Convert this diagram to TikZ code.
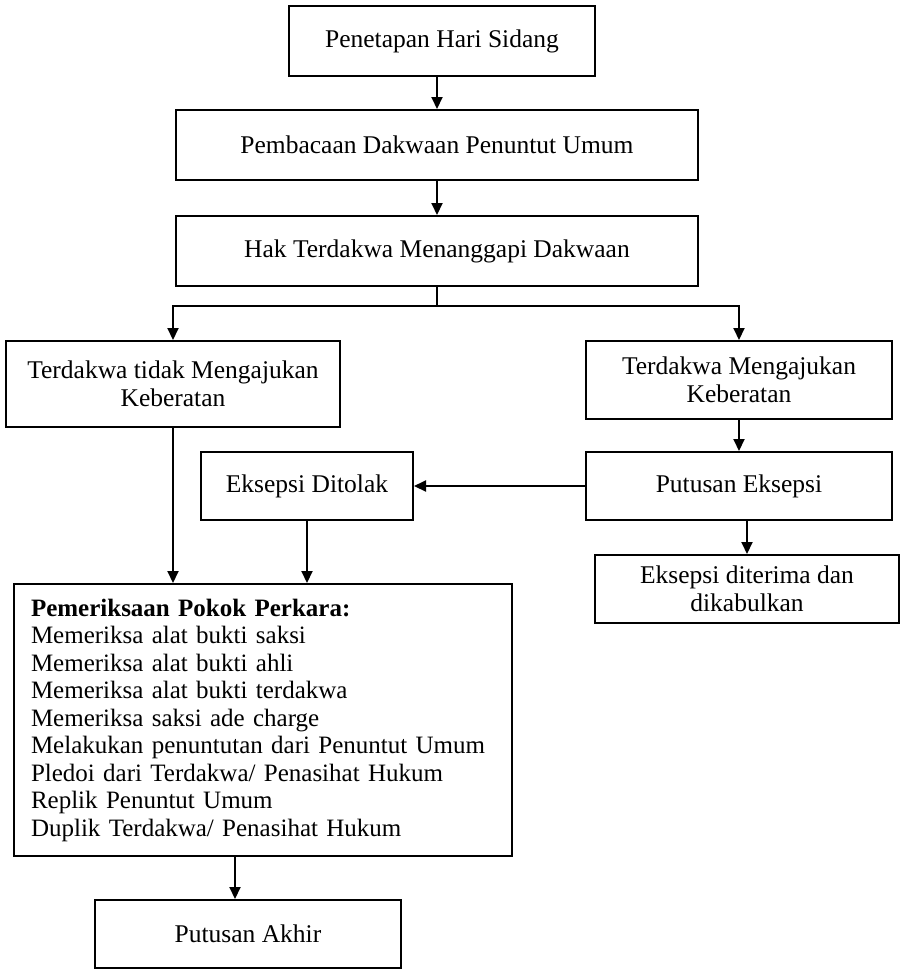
\documentclass[tikz,border=0pt]{standalone}
\usepackage{fontspec}
\setmainfont{Liberation Serif}
\usetikzlibrary{arrows.meta}
\begin{document}
\begin{tikzpicture}[x=1pt,y=-1pt,
  box/.style={draw, line width=2pt, rectangle, inner sep=0pt, align=center,
    font=\fontsize{25.5}{27.5}\selectfont},
  arr/.style={line width=2pt, -{Triangle[length=12pt,width=11pt]}},
  ln/.style={line width=2pt}]
\useasboundingbox (0,0) rectangle (900,970);
\node[box, minimum width=306pt, minimum height=70pt] (b1) at (442,41) {Penetapan Hari Sidang};
\node[box, minimum width=522pt, minimum height=70pt] (b2) at (437,145) {Pembacaan Dakwaan Penuntut Umum};
\node[box, minimum width=522pt, minimum height=70pt] (b3) at (437,251) {Hak Terdakwa Menanggapi Dakwaan};
\node[box, minimum width=334pt, minimum height=86pt] (b4) at (173,384) {Terdakwa tidak Mengajukan\\Keberatan};
\node[box, minimum width=306pt, minimum height=78pt] (b5) at (739,380) {Terdakwa Mengajukan\\Keberatan};
\node[box, minimum width=212pt, minimum height=68pt] (b6) at (307,486) {Eksepsi Ditolak};
\node[box, minimum width=306pt, minimum height=68pt] (b7) at (739,486) {Putusan Eksepsi};
\node[box, minimum width=304pt, minimum height=68pt] (b8) at (747,589) {Eksepsi diterima dan\\dikabulkan};
\node[box, minimum width=498pt, minimum height=272pt, text width=464pt, inner xsep=17pt, align=left,
      font=\fontsize{25}{27.5}\selectfont] (b9) at (263,720)
  {\textbf{Pemeriksaan Pokok Perkara:}\\
   Memeriksa alat bukti saksi\\
   Memeriksa alat bukti ahli\\
   Memeriksa alat bukti terdakwa\\
   Memeriksa saksi ade charge\\
   Melakukan penuntutan dari Penuntut Umum\\
   Pledoi dari Terdakwa/ Penasihat Hukum\\
   Replik Penuntut Umum\\
   Duplik Terdakwa/ Penasihat Hukum};
\node[box, minimum width=306pt, minimum height=68pt] (b10) at (248,934) {Putusan Akhir};

\coordinate (j) at (437,306);
\draw[arr] (b2.north |- b1.south) -- (b2.north);
\draw[arr] (b2.south) -- (b3.north);
\draw[ln] (b3.south) -- (j);
\draw[arr] (j) -| (b4.north);
\draw[arr] (j) -| (b5.north);
\draw[arr] (b5.south) -- (b7.north);
\draw[arr] (b7.west) -- (b6.east);
\draw[arr] (b7.south -| b8.north) -- (b8.north);
\draw[arr] (b4.south) -- (b4.south |- b9.north);
\draw[arr] (b6.south) -- (b6.south |- b9.north);
\draw[arr] ([xshift=-13pt]b10.north |- b9.south) -- ([xshift=-13pt]b10.north);
\end{tikzpicture}
\end{document}
